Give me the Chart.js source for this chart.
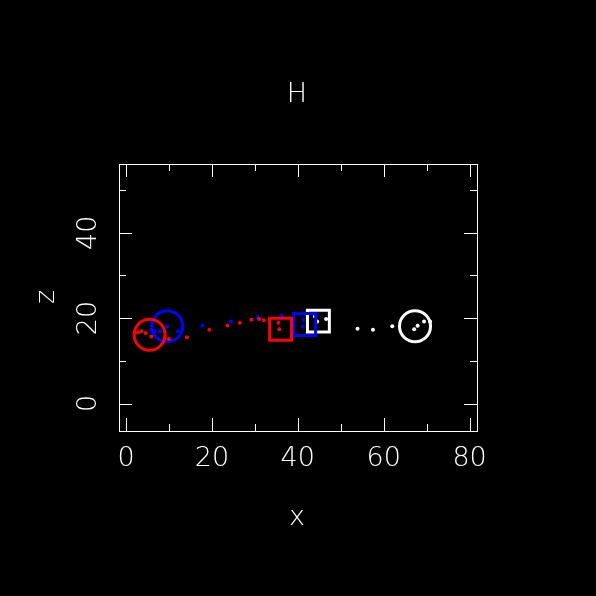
<!DOCTYPE html>
<html>
<head>
<meta charset="utf-8">
<script src="https://cdn.jsdelivr.net/npm/chart.js@4.4.0/dist/chart.umd.min.js"></script>
<style>
  html, body { margin: 0; padding: 0; background: #000; }
  canvas { display: block; }
</style>
</head>
<body>
<canvas id="myChart" width="596" height="596"></canvas>
<script>
// trajectory points
const redX = [2.0, 2.8, 3.6, 4.6, 5.9, 9.0, 10.0, 14.2, 19.4, 23.6, 26.5, 29.2, 31.0, 32.1, 35.5, 35.7];
const redZ = [16.5, 16.7, 16.9, 16.5, 15.7, 15.3, 15.1, 15.5, 17.3, 18.3, 18.9, 19.6, 19.8, 19.5, 18.9, 17.4];
const blueX = [5.9, 6.7, 7.9, 9.0, 9.6, 12.1, 17.8, 24.4, 30.6, 36.2, 41.3, 41.2];
const blueZ = [17.3, 16.9, 16.9, 16.9, 18.1, 16.9, 18.3, 19.2, 20.2, 20.6, 19.6, 18.0];
const whiteX = [44.0, 44.5, 46.6, 53.9, 57.5, 62.0, 67.1, 67.9, 69.4, 70.8];
const whiteZ = [20.4, 19.2, 19.8, 17.5, 17.3, 18.1, 17.4, 18.2, 19.2, 19.2];

// start (circle) and end (square) markers: [x, z]
const redStart = [5.5, 16.1];
const redEnd = [36.0, 17.4];
const blueStart = [9.6, 18.1];
const blueEnd = [41.6, 18.5];
const whiteStart = [67.3, 18.1];
const whiteEnd = [44.8, 19.3];

const xMajor = [0, 20, 40, 60, 80];
const xMinor = [10, 30, 50, 70];
const yMajor = [0, 20, 40];
const yMinor = [10, 30, 50];

const toPts = (xs, zs) => xs.map((x, i) => ({ x: x, y: zs[i] }));
const one = (p) => [{ x: p[0], y: p[1] }];

function dots(xs, zs, color) {
    return { data: toPts(xs, zs), pointStyle: 'circle', pointRadius: 2,
        backgroundColor: color, borderColor: color, borderWidth: 0 };
}
function marker(p, style, color) {
    return { data: one(p), pointStyle: style, pointRadius: 15.5,
        backgroundColor: 'rgba(0,0,0,0)', borderColor: color, borderWidth: 3 };
}

const font = '200 27px "DejaVu Sans"';

const framePlugin = {
    id: 'frame',
    beforeDraw(chart) {
        const ctx = chart.ctx;
        ctx.save();
        ctx.fillStyle = '#000';
        ctx.fillRect(0, 0, chart.width, chart.height);
        ctx.restore();
    },
    afterDraw(chart) {
        const ctx = chart.ctx;
        const a = chart.chartArea;
        const xs = chart.scales.x, ys = chart.scales.y;
        ctx.save();
        ctx.strokeStyle = '#fff';
        ctx.lineWidth = 1;
        ctx.strokeRect(a.left + 0.5, a.top + 0.5, a.right - a.left, a.bottom - a.top);
        ctx.beginPath();
        const tickX = (vals, len) => vals.forEach(v => {
            const px = Math.round(xs.getPixelForValue(v)) + 0.5;
            ctx.moveTo(px, a.bottom); ctx.lineTo(px, a.bottom - len);
            ctx.moveTo(px, a.top); ctx.lineTo(px, a.top + len);
        });
        const tickY = (vals, len) => vals.forEach(v => {
            const py = Math.round(ys.getPixelForValue(v)) + 0.5;
            ctx.moveTo(a.left, py); ctx.lineTo(a.left + len, py);
            ctx.moveTo(a.right, py); ctx.lineTo(a.right - len, py);
        });
        tickX(xMajor, 13); tickX(xMinor, 7);
        tickY(yMajor, 13); tickY(yMinor, 7);
        ctx.stroke();

        ctx.fillStyle = '#fff';
        ctx.font = font;
        ctx.textAlign = 'center';
        ctx.textBaseline = 'middle';
        xMajor.forEach(v => ctx.fillText(String(v), xs.getPixelForValue(v), 459));
        yMajor.forEach(v => {
            ctx.save();
            ctx.translate(89, ys.getPixelForValue(v));
            ctx.rotate(-Math.PI / 2);
            ctx.fillText(String(v), 0, 0);
            ctx.restore();
        });
        ctx.fillText('H', 297, 95);
        ctx.fillText('x', 297, 518);
        ctx.save();
        ctx.translate(47, 297);
        ctx.rotate(-Math.PI / 2);
        ctx.fillText('z', 0, 0);
        ctx.restore();
        ctx.restore();
    }
};

new Chart(document.getElementById('myChart').getContext('2d'), {
    type: 'scatter',
    data: {
        datasets: [
            dots(redX, redZ, '#ff0000'),
            marker(redStart, 'circle', '#ff0000'),
            marker(redEnd, 'rect', '#ff0000'),
            dots(blueX, blueZ, '#0000ff'),
            marker(blueStart, 'circle', '#0000ff'),
            marker(blueEnd, 'rect', '#0000ff'),
            dots(whiteX, whiteZ, '#ffffff'),
            marker(whiteStart, 'circle', '#ffffff'),
            marker(whiteEnd, 'rect', '#ffffff'),
        ],
    },
    options: {
        responsive: false,
        animation: false,
        layout: { padding: { left: 119, right: 119, top: 164, bottom: 165 } },
        plugins: { legend: { display: false }, tooltip: { enabled: false } },
        scales: {
            x: { type: 'linear', min: -1.63, max: 81.73, display: false },
            y: { type: 'linear', min: -6.44, max: 56.1, display: false },
        },
    },
    plugins: [framePlugin],
});
</script>
</body>
</html>
